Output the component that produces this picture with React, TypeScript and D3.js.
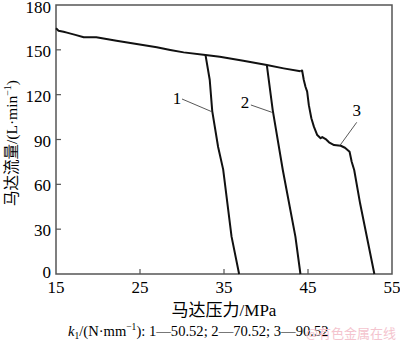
import React, { useEffect, useRef } from 'react'
import * as d3 from 'd3'

// main flow curve (shared start) and the three drop-off branches
const mainCurve: [number, number][] = [
  [15, 164.4], [15.3, 162.8], [15.9, 162.1], [16.3, 161.5], [17.3, 160],
  [18.3, 158.4], [19.8, 158.4], [22.2, 156.1], [24.6, 153.9], [27.0, 151.7],
  [28.6, 149.9], [30.2, 148.3], [32.8, 146.5], [34.5, 145.4], [37.3, 142.7],
  [40.1, 139.8], [42.1, 137.6], [44.1, 135.6],
]
const branch1: [number, number][] = [
  [32.8, 146.5], [33.3, 130], [33.6, 109], [34.3, 85], [34.9, 70], [35.9, 25], [36.8, 0],
]
const branch2: [number, number][] = [
  [40.1, 139.8], [40.8, 109.7], [42.0, 69.6], [43.5, 25], [44.1, 0],
]
const branch3: [number, number][] = [
  [44.1, 135.6], [44.3, 136.2], [44.5, 129.8], [44.7, 125.3], [44.9, 122], [45.1, 113],
  [45.4, 104.2], [45.7, 98.6], [46.1, 93], [46.5, 90.8], [46.7, 91.6], [47.1, 90.3],
  [47.5, 88.1], [48.1, 86.3], [48.9, 85.8], [49.4, 84.5], [49.95, 81.8], [50.2, 75.1],
  [50.5, 69.6], [51.2, 47.3], [52.9, 0],
]
const curves = [mainCurve, branch1, branch2, branch3]

// curve labels with leader lines
const curveLabels: { name: string; at: [number, number]; from: [number, number]; to: [number, number] }[] = [
  { name: '1', at: [29.4, 114], from: [30.0, 117.1], to: [33.55, 108.6] },
  { name: '2', at: [37.5, 111], from: [38.2, 113.1], to: [40.7, 108.2] },
  { name: '3', at: [50.8, 106], from: [50.8, 101.5], to: [48.8, 86] },
]

const xTicks = [15, 25, 35, 45, 55]
const yTicks = [0, 30, 60, 90, 120, 150, 180]

export default function App() {
  const ref = useRef<SVGSVGElement>(null)

  useEffect(() => {
    const svg = d3.select(ref.current)
    svg.selectAll('*').remove()

    const margin = { top: 5, right: 8, bottom: 71, left: 56 }
    const width = 400 - margin.left - margin.right
    const height = 345 - margin.top - margin.bottom
    const font = "'Liberation Serif', 'Times New Roman', 'Noto Sans CJK SC', serif"

    const x = d3.scaleLinear().domain([15, 55]).range([0, width])
    const y = d3.scaleLinear().domain([0, 180]).range([height, 0])

    const g = svg.append('g').attr('transform', `translate(${margin.left},${margin.top})`)

    // frame
    g.append('rect')
      .attr('width', width).attr('height', height)
      .attr('fill', 'none').attr('stroke', '#555').attr('stroke-width', 1.5)

    // inward ticks
    g.selectAll('.xt').data(xTicks.slice(1, -1)).enter().append('line')
      .attr('x1', d => x(d)).attr('x2', d => x(d))
      .attr('y1', height).attr('y2', height - 5)
      .attr('stroke', '#555').attr('stroke-width', 1.2)
    g.selectAll('.yt').data(yTicks.slice(1, -1)).enter().append('line')
      .attr('x1', 0).attr('x2', 5)
      .attr('y1', d => y(d)).attr('y2', d => y(d))
      .attr('stroke', '#555').attr('stroke-width', 1.2)

    // tick labels
    g.selectAll('.xl').data(xTicks).enter().append('text')
      .attr('x', d => x(d)).attr('y', height + 19)
      .attr('text-anchor', 'middle')
      .attr('font-family', font).attr('font-size', 17)
      .text(d => d)
    g.selectAll('.yl').data(yTicks).enter().append('text')
      .attr('x', -5).attr('y', d => y(d) + (d === 0 ? 4 : d === 180 ? 8 : 7))
      .attr('text-anchor', 'end')
      .attr('font-family', font).attr('font-size', 17)
      .text(d => d)

    // curves
    const line = d3.line<[number, number]>().x(d => x(d[0])).y(d => y(d[1]))
    g.selectAll('.curve').data(curves).enter().append('path')
      .attr('d', d => line(d))
      .attr('fill', 'none').attr('stroke', '#111')
      .attr('stroke-width', 2).attr('stroke-linejoin', 'round')

    // labels + leaders
    curveLabels.forEach(l => {
      g.append('line')
        .attr('x1', x(l.from[0])).attr('y1', y(l.from[1]))
        .attr('x2', x(l.to[0])).attr('y2', y(l.to[1]))
        .attr('stroke', '#444').attr('stroke-width', 0.9)
      g.append('text')
        .attr('x', x(l.at[0])).attr('y', y(l.at[1]))
        .attr('text-anchor', 'middle')
        .attr('font-family', font).attr('font-size', 17)
        .text(l.name)
    })

    // axis titles
    svg.append('text')
      .attr('x', margin.left + width / 2).attr('y', 316)
      .attr('text-anchor', 'middle')
      .attr('font-family', font).attr('font-size', 17)
      .text('马达压力/MPa')

    const yTitle = svg.append('text')
      .attr('transform', `translate(17,143) rotate(-90)`)
      .attr('text-anchor', 'middle')
      .attr('font-family', font).attr('font-size', 15.5)
    yTitle.append('tspan').text('马达流量/(L·min')
    yTitle.append('tspan').attr('font-size', 10).attr('dy', -6).text('−1')
    yTitle.append('tspan').attr('dy', 6).text(')')

    // caption
    const cap = svg.append('text')
      .attr('x', 68).attr('y', 336)
      .attr('font-family', font).attr('font-size', 14.6)
    cap.append('tspan').attr('font-style', 'italic').text('k')
    cap.append('tspan').attr('font-size', 9.5).attr('dy', 3).text('1')
    cap.append('tspan').attr('dy', -3).text('/(N·mm')
    cap.append('tspan').attr('font-size', 9.5).attr('dy', -6).text('−1')
    cap.append('tspan').attr('dy', 6).text('): 1—50.52; 2—70.52; 3—90.52')

    svg.append('text')
      .attr('x', 396).attr('y', 338)
      .attr('text-anchor', 'end')
      .attr('font-family', "'Noto Sans CJK SC', sans-serif").attr('font-size', 13)
      .attr('fill', '#f4c4ce')
      .text('@有色金属在线')
  }, [])

  return (
    <svg ref={ref} width={400} height={345} style={{ position: 'absolute', left: 0, top: 0, background: '#fff' }} />
  )
}
